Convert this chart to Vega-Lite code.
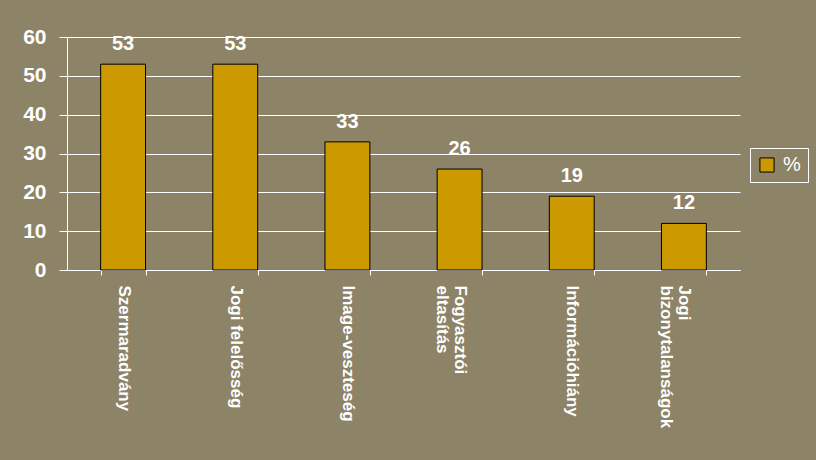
{
  "$schema": "https://vega.github.io/schema/vega-lite/v6.json",
  "width": 673,
  "height": 233,
  "autosize": "none",
  "padding": {"left": 67, "top": 37, "right": 76, "bottom": 190},
  "background": "#8D8366",
  "config": {
    "view": {"stroke": null},
    "font": "Liberation Sans"
  },
  "data": {
    "values": [
      {"cat": "Szermaradvány", "v": 53, "s": "%"},
      {"cat": "Jogi felelősség", "v": 53, "s": "%"},
      {"cat": "Image-veszteség", "v": 33, "s": "%"},
      {"cat": "Fogyasztói eltasítás", "v": 26, "s": "%"},
      {"cat": "Információhiány", "v": 19, "s": "%"},
      {"cat": "Jogi bizonytalanságok", "v": 12, "s": "%"}
    ]
  },
  "encoding": {
    "x": {
      "field": "cat", "type": "nominal", "sort": null,
      "scale": {"paddingInner": 0.6, "paddingOuter": 0.3},
      "axis": {
        "title": null,
        "labelAngle": 90,
        "labelColor": "white",
        "labelFont": "Liberation Sans",
        "labelFontWeight": "bold",
        "labelFontSize": 17,
        "labelPadding": 10,
        "labelLimit": 250,
        "labelLineHeight": 18,
        "labelExpr": "datum.value == 'Fogyasztói eltasítás' ? ['Fogyasztói', 'eltasítás'] : datum.value == 'Jogi bizonytalanságok' ? ['Jogi', 'bizonytalanságok'] : datum.value",
        "domainColor": "white",
        "tickColor": "white",
        "tickBand": "extent",
        "tickSize": 5,
        "grid": false
      }
    },
    "y": {
      "field": "v", "type": "quantitative",
      "scale": {"domain": [0, 60]},
      "axis": {
        "title": null,
        "values": [0, 10, 20, 30, 40, 50, 60],
        "labelColor": "white",
        "labelFont": "Liberation Sans",
        "labelFontWeight": "bold",
        "labelFontSize": 21,
        "labelPadding": 13,
        "domainColor": "white",
        "tickColor": "white",
        "tickSize": 8,
        "gridColor": "white",
        "gridOpacity": 1,
        "gridWidth": 1
      }
    }
  },
  "layer": [
    {
      "mark": {"type": "bar", "stroke": "black", "strokeWidth": 1},
      "encoding": {
        "color": {
          "field": "s", "type": "nominal",
          "scale": {"range": ["#CC9900"]},
          "legend": {
            "title": null,
            "orient": "none",
            "legendX": 683,
            "legendY": 111,
            "strokeColor": "white",
            "padding": 7,
            "symbolType": "square",
            "symbolSize": 200,
            "symbolStrokeColor": "black",
            "symbolStrokeWidth": 1,
            "labelColor": "white",
            "labelFontSize": 20,
            "labelFont": "Liberation Sans",
            "labelOffset": 6
          }
        }
      }
    },
    {
      "mark": {"type": "text", "baseline": "bottom", "dy": -10, "color": "white", "fontSize": 20, "fontWeight": "bold", "font": "Liberation Sans"},
      "encoding": {"text": {"field": "v", "type": "quantitative"}}
    }
  ]
}
